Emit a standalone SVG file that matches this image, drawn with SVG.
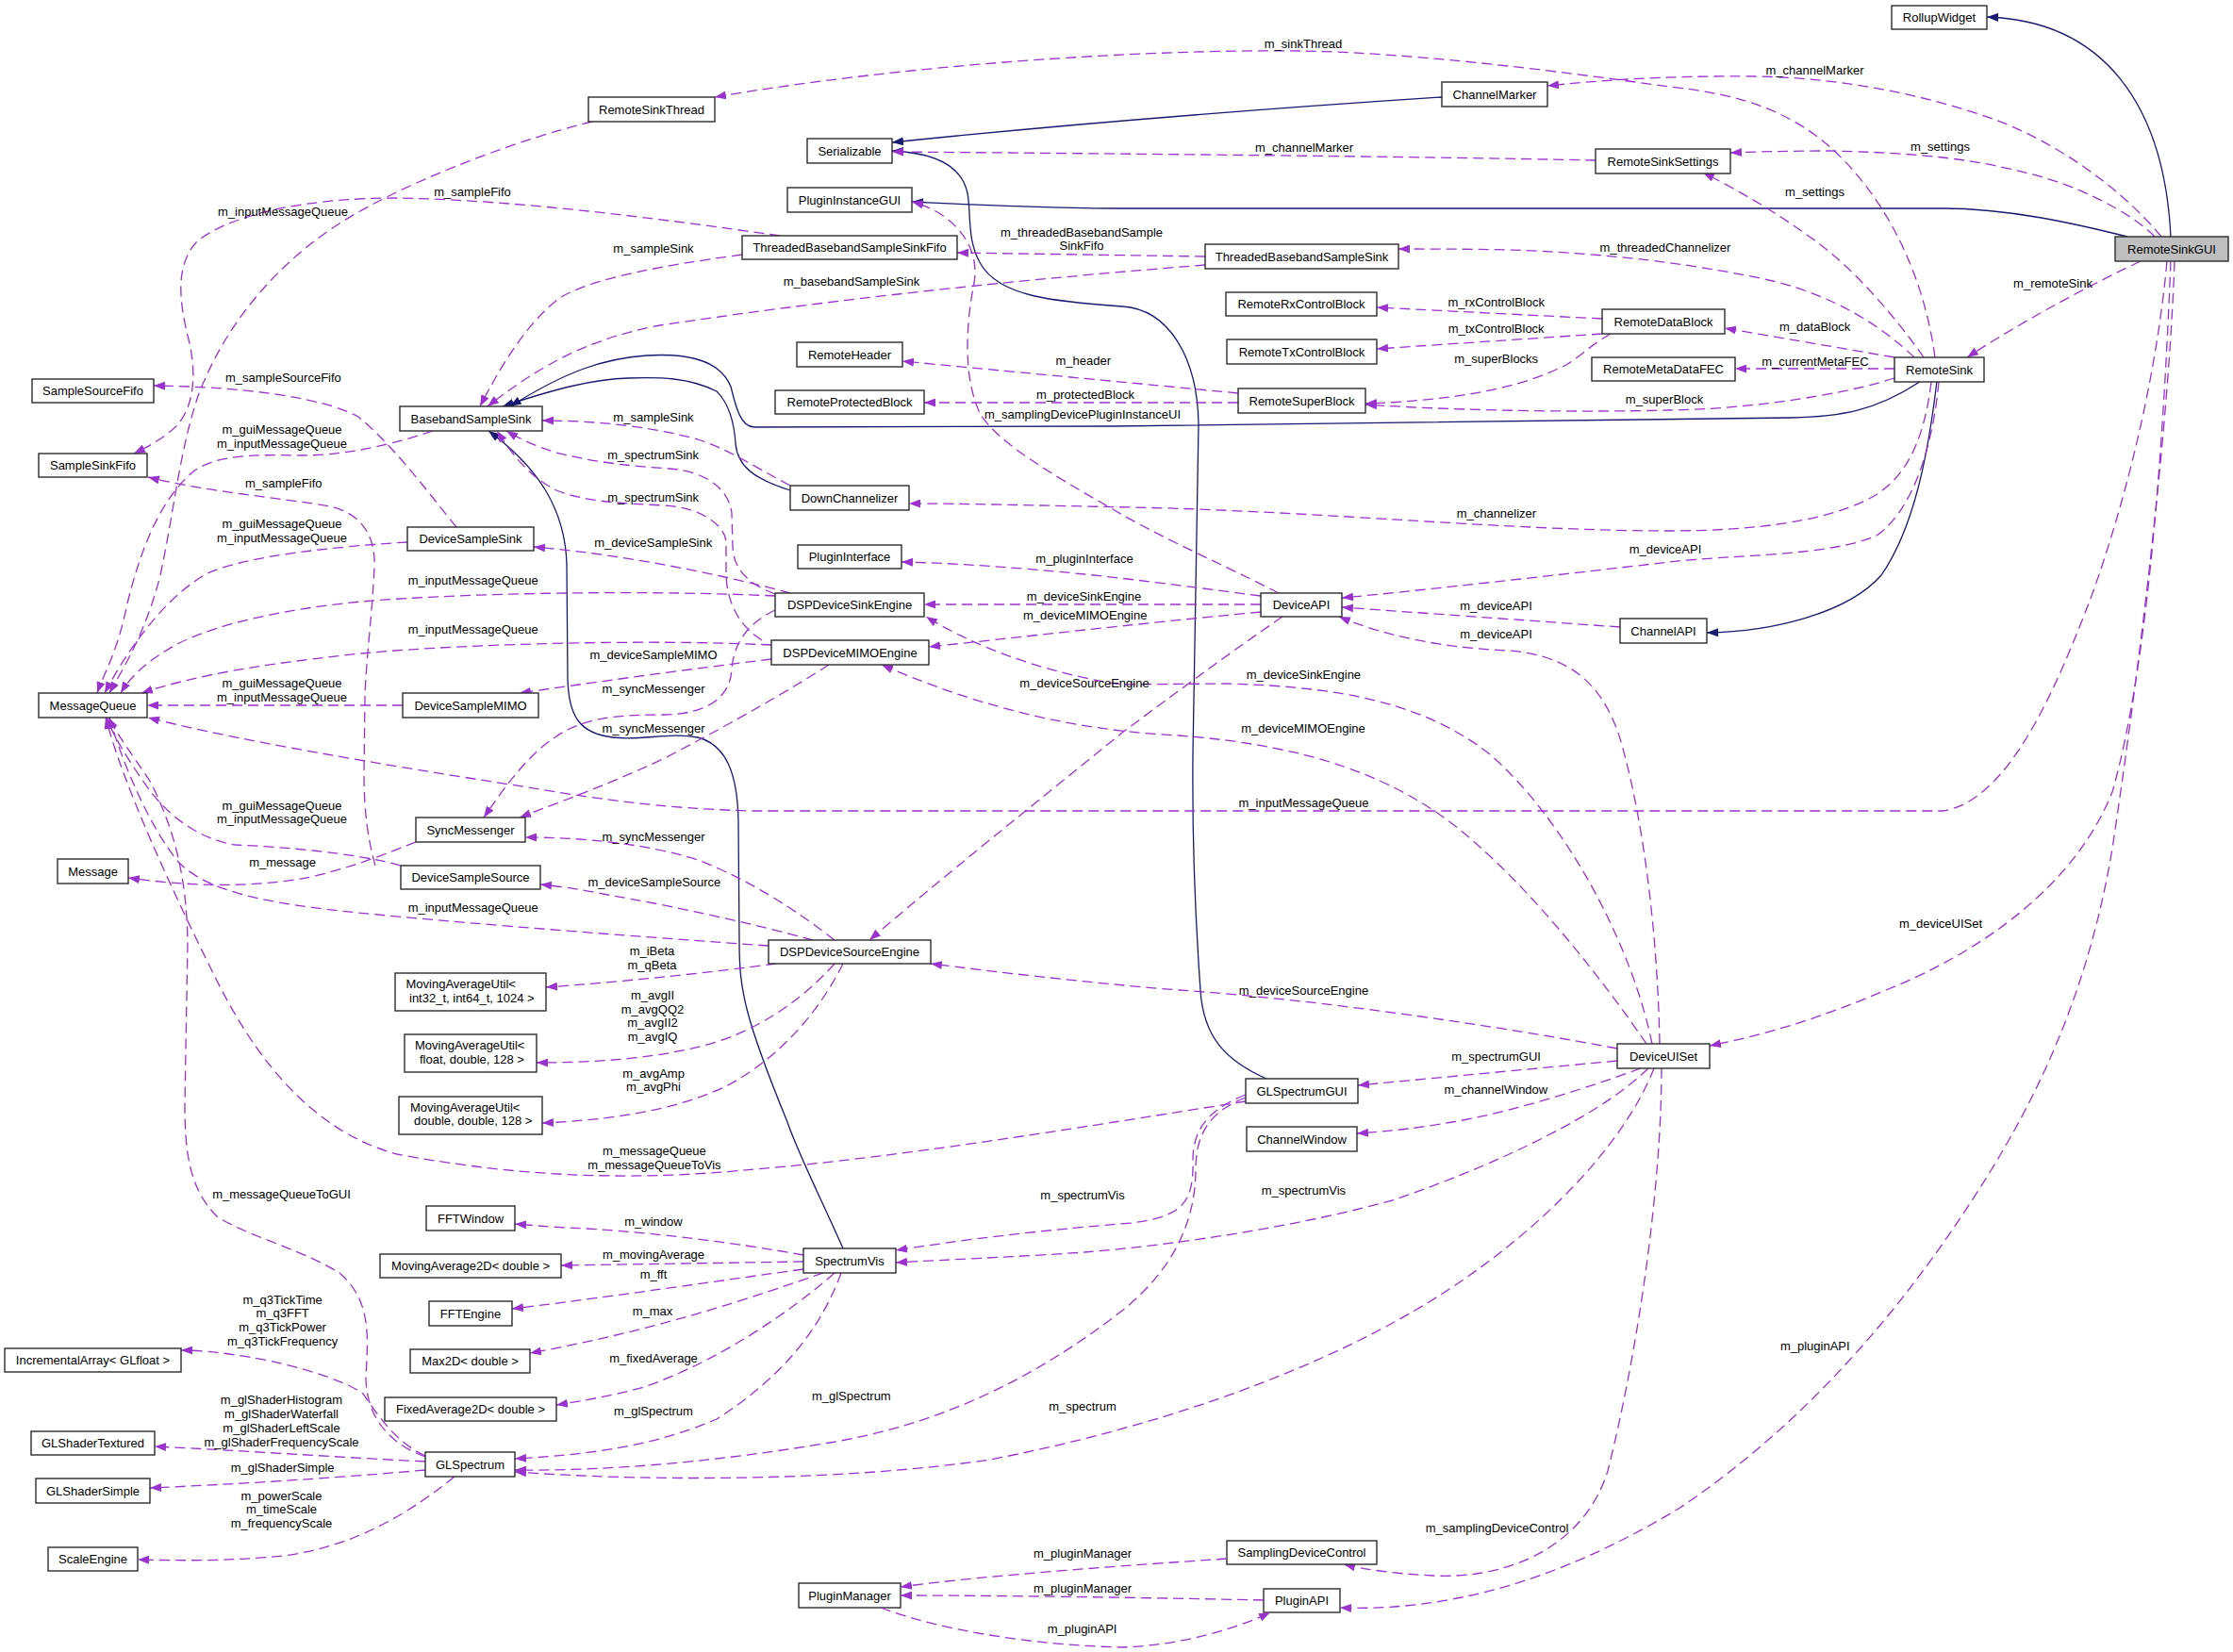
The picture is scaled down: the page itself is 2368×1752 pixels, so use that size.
<svg xmlns="http://www.w3.org/2000/svg" width="2368" height="1752" viewBox="0 0 2368 1752">
<style>
.node rect{fill:#ffffff;stroke:#2b2b2b;stroke-width:1.4}
.node.main rect{fill:#bfbfbf}
.node text{font-family:"Liberation Sans",Arial,sans-serif;font-size:13px;fill:#000;text-anchor:middle}
.node text.l{text-anchor:start}
.inh{fill:none;stroke:#191970;stroke-width:1.3;marker-end:url(#an)}
.use{fill:none;stroke:#9a32cd;stroke-width:1.3;stroke-dasharray:11,6;marker-end:url(#ap)}
.lbl{font-family:"Liberation Sans",Arial,sans-serif;font-size:13px;fill:#000;text-anchor:middle}
</style>
<defs>
<marker id="an" viewBox="0 0 12 9" refX="12" refY="4.5" markerWidth="12" markerHeight="9" markerUnits="userSpaceOnUse" orient="auto"><path d="M0,0 L12,4.5 L0,9 z" fill="#191970" stroke="none"/></marker>
<marker id="ap" viewBox="0 0 12 9" refX="12" refY="4.5" markerWidth="12" markerHeight="9" markerUnits="userSpaceOnUse" orient="auto"><path d="M0,0 L12,4.5 L0,9 z" fill="#9a32cd" stroke="none"/></marker>
</defs>
<rect width="2368" height="1752" fill="#ffffff"/>
<g id="edges">
<path class="inh" d="M2302,251 C2295,110 2230,22 2107,18"/>
<path class="inh" d="M2256,251 C2200,237 2130,221 2060,221 L1200,221 C1100,221 1010,216 967,214"/>
<path class="inh" d="M1529,103 C1300,118 1100,135 946,151"/>
<path class="inh" d="M1343,1144 C1300,1125 1276,1100 1273,1050 C1268,980 1264,900 1265,800 L1271,450 C1270,380 1240,328 1190,325 C1120,320 1060,315 1040,280 C1025,255 1030,225 1026,205 C1020,175 990,162 946,160"/>
<path class="inh" d="M2037,404 C1990,436 1950,442 1900,443 L1180,452 L800,453 C785,453 780,430 775,410 C765,385 735,374 686,377 C640,380 600,394 541,431"/>
<path class="inh" d="M838,520 C800,508 782,495 780,470 C778,440 770,425 760,415 C730,400 700,400 666,401 C630,402 590,412 533,431"/>
<path class="inh" d="M894,1324 C870,1270 845,1220 835,1190 C790,1080 784,1050 784,1000 L783,870 C782,820 770,790 740,782 C710,776 680,786 650,782 C615,778 603,760 602,720 L601,600 C600,540 570,495 518,457"/>
<path class="inh" d="M2054,404 C2045,480 2030,560 1995,610 C1960,650 1880,670 1810,671"/>

<path class="use" d="M2052,379 C2040,290 2000,210 1942,157 C1900,120 1850,100 1770,92 C1650,75 1500,56 1380,54 C1200,52 950,70 758,103"/>
<path class="use" d="M2292,251 C2250,200 2180,150 2113,126 C2040,100 1950,82 1860,81 C1760,80 1690,86 1641,91"/>
<path class="use" d="M2285,251 C2260,225 2200,195 2151,184 C2100,170 2040,162 1941,160 C1900,160 1860,161 1835,162"/>
<path class="use" d="M2040,379 C2020,350 1980,300 1940,267 C1900,235 1850,205 1806,183"/>
<path class="use" d="M2270,277 C2200,310 2130,350 2086,379"/>
<path class="use" d="M2298,277 C2285,420 2245,560 2215,640 C2180,730 2130,850 2060,860 L800,860 C700,858 620,845 560,835 C400,810 250,785 157,761"/>
<path class="use" d="M2302,277 C2295,450 2280,700 2240,840 C2200,940 2100,1010 2000,1050 C1930,1080 1870,1098 1813,1109"/>
<path class="use" d="M2306,277 C2300,450 2270,700 2240,900 C2210,1080 2140,1200 2080,1290 C2000,1410 1900,1520 1780,1600 C1680,1660 1560,1710 1421,1705"/>
<path class="use" d="M2009,379 L1829,348"/>
<path class="use" d="M2009,391 L1840,391"/>
<path class="use" d="M2009,401 C1950,420 1850,434 1770,435 C1650,438 1520,434 1448,429"/>
<path class="use" d="M2030,379 C2000,350 1950,315 1880,298 C1800,280 1700,268 1600,265 C1550,264 1510,264 1483,264"/>
<path class="use" d="M2048,405 C2040,470 2020,510 1980,530 C1930,555 1850,563 1770,563 C1600,563 1400,542 1200,538 C1100,536 1020,534 964,534"/>
<path class="use" d="M2056,405 C2050,470 2030,540 1990,568 C1940,590 1840,588 1770,596 C1650,610 1500,627 1423,634"/>
<path class="use" d="M1699,338 L1460,326"/>
<path class="use" d="M1699,354 L1460,370"/>
<path class="use" d="M1708,354 C1680,370 1670,385 1650,392 C1600,415 1530,425 1448,428"/>
<path class="use" d="M1313,417 C1200,406 1050,392 957,383"/>
<path class="use" d="M1313,427 L980,427"/>
<path class="use" d="M1356,629 C1300,600 1230,570 1180,540 C1110,500 1060,470 1040,440 C1020,400 1025,340 1033,300 C1040,260 1010,225 967,214"/>
<path class="use" d="M1337,632 C1260,622 1200,614 1150,609 C1080,602 1010,597 956,596"/>
<path class="use" d="M1337,641 L980,641"/>
<path class="use" d="M1337,649 C1200,662 1080,676 985,686"/>
<path class="use" d="M1360,654 C1300,695 1240,740 1190,777 C1100,850 1000,930 922,997"/>
<path class="use" d="M1718,665 L1423,644"/>
<path class="use" d="M1760,1107 C1758,1000 1745,880 1720,790 C1700,720 1660,695 1600,690 C1530,687 1470,675 1420,654"/>
<path class="use" d="M1752,1107 C1730,1000 1660,870 1580,800 C1510,745 1420,728 1300,725 L1190,726 C1120,716 1040,690 982,654"/>
<path class="use" d="M1746,1107 C1700,1040 1630,950 1560,890 C1480,820 1380,790 1250,780 C1150,775 1050,755 935,705"/>
<path class="use" d="M1715,1112 C1600,1090 1400,1060 1250,1050 C1150,1042 1050,1030 987,1022"/>
<path class="use" d="M1715,1125 L1440,1151"/>
<path class="use" d="M1740,1133 C1680,1155 1600,1180 1540,1190 C1500,1197 1470,1200 1439,1202"/>
<path class="use" d="M1748,1133 C1700,1180 1600,1230 1480,1272 C1380,1300 1250,1320 1150,1328 C1080,1333 1000,1336 950,1339"/>
<path class="use" d="M1754,1133 C1720,1220 1620,1320 1500,1390 C1380,1460 1220,1515 1050,1548 C900,1570 700,1572 546,1561"/>
<path class="use" d="M1762,1133 C1762,1250 1740,1420 1705,1560 C1680,1640 1600,1675 1520,1671 C1480,1669 1450,1665 1425,1659"/>
<path class="use" d="M1321,1161 C1285,1175 1265,1195 1265,1230 C1266,1275 1255,1290 1200,1297 C1100,1305 1020,1315 950,1326"/>
<path class="use" d="M1321,1164 C1285,1178 1268,1200 1268,1240 C1268,1300 1240,1350 1190,1390 C1100,1460 1000,1510 880,1530 C760,1550 650,1560 546,1559"/>
<path class="use" d="M1321,1168 C1150,1195 950,1228 800,1240 C680,1252 560,1250 421,1224 C330,1200 270,1120 230,1040 C180,940 130,830 112,761"/>
<path class="use" d="M451,1545 C410,1530 388,1500 388,1460 C390,1420 395,1380 360,1350 C320,1325 260,1310 230,1290 C200,1260 196,1220 196,1170 L199,1000 C198,930 185,880 160,830 C140,800 125,780 115,761"/>
<path class="use" d="M451,1544 C420,1530 400,1500 385,1478 C360,1460 290,1442 250,1437 C230,1434 210,1432 192,1432"/>
<path class="use" d="M451,1550 C350,1545 250,1538 164,1534"/>
<path class="use" d="M451,1559 C350,1568 250,1574 159,1578"/>
<path class="use" d="M482,1566 C440,1600 380,1640 300,1650 C240,1656 190,1655 146,1654"/>
<path class="use" d="M852,1331 C780,1318 680,1305 600,1302 C580,1301 560,1299 546,1298"/>
<path class="use" d="M852,1338 L595,1342"/>
<path class="use" d="M852,1346 C750,1360 650,1375 543,1388"/>
<path class="use" d="M873,1350 C800,1375 700,1410 562,1435"/>
<path class="use" d="M885,1350 C840,1390 760,1445 680,1472 C640,1482 610,1487 590,1490"/>
<path class="use" d="M892,1350 C870,1410 830,1460 760,1505 C690,1535 620,1543 546,1547"/>
<path class="use" d="M823,1022 C750,1032 650,1042 579,1047"/>
<path class="use" d="M885,1022 C860,1050 820,1085 760,1105 C700,1123 630,1127 569,1127"/>
<path class="use" d="M894,1022 C870,1070 830,1120 770,1152 C710,1180 640,1188 575,1191"/>
<path class="use" d="M815,1003 C700,995 500,980 380,968 C280,958 220,945 190,915 C160,880 130,810 116,761"/>
<path class="use" d="M885,997 C850,970 800,935 740,912 C680,893 610,888 557,888"/>
<path class="use" d="M862,997 C800,980 720,962 650,950 C620,944 595,940 573,938"/>
<path class="use" d="M822,632 C700,626 500,628 383,638 C300,646 230,662 190,682 C160,698 140,715 128,735"/>
<path class="use" d="M838,629 C760,608 660,588 566,580"/>
<path class="use" d="M822,630 C795,620 778,605 777,580 L776,545 C774,520 750,500 710,497 C660,494 620,488 590,480 C570,474 552,466 537,457"/>
<path class="use" d="M822,647 C795,660 778,680 776,710 C774,740 750,757 705,758 C660,758 620,760 590,781 C560,800 535,835 513,867"/>
<path class="use" d="M818,684 C700,678 500,682 383,693 C300,702 220,712 150,735"/>
<path class="use" d="M818,699 C730,710 640,722 551,735"/>
<path class="use" d="M808,679 C785,665 771,640 770,610 L770,574 C768,555 740,538 705,536 C660,534 620,532 590,520 C560,505 542,480 527,457"/>
<path class="use" d="M879,705 C840,730 780,765 705,804 C650,830 600,848 551,867"/>
<path class="use" d="M484,559 C460,530 420,475 380,442 C340,420 250,410 163,409"/>
<path class="use" d="M432,575 C350,580 260,590 220,608 C180,630 140,680 111,735"/>
<path class="use" d="M459,457 C420,470 370,483 320,483 C270,482 230,482 205,500 C170,530 150,580 135,640 C125,690 110,715 103,735"/>
<path class="use" d="M398,918 C390,890 386,860 386,820 L387,740 C388,700 395,650 397,600 C398,570 385,545 350,537 C300,528 220,522 157,506"/>
<path class="use" d="M425,918 C380,905 300,898 250,896 C210,890 180,865 160,840 C135,805 120,780 113,761"/>
<path class="use" d="M427,748 L156,748"/>
<path class="use" d="M441,893 C410,905 380,918 330,930 C270,942 200,940 136,931"/>
<path class="use" d="M827,250 C700,232 550,212 420,210 C330,210 250,225 210,255 C185,280 190,320 200,360 C210,400 205,440 180,458 C165,470 152,476 142,481"/>
<path class="use" d="M628,129 C560,145 450,185 380,225 C300,270 240,340 210,420 C190,480 185,540 170,610 C155,670 130,710 116,735"/>
<path class="use" d="M787,270 C700,282 630,295 595,315 C560,340 530,390 509,431"/>
<path class="use" d="M1278,272 L1015,268"/>
<path class="use" d="M1278,281 C1100,295 900,315 700,345 C620,360 570,390 517,431"/>
<path class="use" d="M838,515 C800,495 770,475 740,466 C690,452 630,446 575,446"/>
<path class="use" d="M1692,170 C1500,166 1200,163 946,161"/>
</g>
<g id="edge-labels">
<text class="lbl" x="1382" y="50.5">m_sinkThread</text>
<text class="lbl" x="1924.5" y="78.7">m_channelMarker</text>
<text class="lbl" x="1383" y="161">m_channelMarker</text>
<text class="lbl" x="2057.5" y="160.2">m_settings</text>
<text class="lbl" x="1924.5" y="208">m_settings</text>
<text class="lbl" x="501" y="208">m_sampleFifo</text>
<text class="lbl" x="300" y="228.7">m_inputMessageQueue</text>
<text class="lbl" x="1147" y="251.3">m_threadedBasebandSample</text>
<text class="lbl" x="1147" y="264.7">SinkFifo</text>
<text class="lbl" x="1766" y="267">m_threadedChannelizer</text>
<text class="lbl" x="693" y="267.8">m_sampleSink</text>
<text class="lbl" x="903" y="303">m_basebandSampleSink</text>
<text class="lbl" x="2177" y="305">m_remoteSink</text>
<text class="lbl" x="1586.7" y="324.8">m_rxControlBlock</text>
<text class="lbl" x="1924.6" y="350.8">m_dataBlock</text>
<text class="lbl" x="1586.7" y="352.7">m_txControlBlock</text>
<text class="lbl" x="1586.7" y="384.9">m_superBlocks</text>
<text class="lbl" x="1148.7" y="387">m_header</text>
<text class="lbl" x="1924.9" y="388">m_currentMetaFEC</text>
<text class="lbl" x="300.4" y="404.8">m_sampleSourceFifo</text>
<text class="lbl" x="1151" y="422.7">m_protectedBlock</text>
<text class="lbl" x="1765" y="428">m_superBlock</text>
<text class="lbl" x="1148" y="443.8">m_samplingDevicePluginInstanceUI</text>
<text class="lbl" x="693" y="446.8">m_sampleSink</text>
<text class="lbl" x="299" y="459.9">m_guiMessageQueue</text>
<text class="lbl" x="299" y="474.8">m_inputMessageQueue</text>
<text class="lbl" x="692.7" y="486.6">m_spectrumSink</text>
<text class="lbl" x="300.7" y="517.3">m_sampleFifo</text>
<text class="lbl" x="692.7" y="531.8">m_spectrumSink</text>
<text class="lbl" x="1586.9" y="549">m_channelizer</text>
<text class="lbl" x="299" y="560.1">m_guiMessageQueue</text>
<text class="lbl" x="299" y="574.6">m_inputMessageQueue</text>
<text class="lbl" x="692.7" y="580.4">m_deviceSampleSink</text>
<text class="lbl" x="1766" y="586.7">m_deviceAPI</text>
<text class="lbl" x="1150" y="596.5">m_pluginInterface</text>
<text class="lbl" x="501.7" y="620.1">m_inputMessageQueue</text>
<text class="lbl" x="1149.5" y="637">m_deviceSinkEngine</text>
<text class="lbl" x="1586.5" y="647">m_deviceAPI</text>
<text class="lbl" x="1150.7" y="657">m_deviceMIMOEngine</text>
<text class="lbl" x="501.7" y="672.2">m_inputMessageQueue</text>
<text class="lbl" x="1586.5" y="676.8">m_deviceAPI</text>
<text class="lbl" x="693" y="698.5">m_deviceSampleMIMO</text>
<text class="lbl" x="1382.4" y="720">m_deviceSinkEngine</text>
<text class="lbl" x="1150" y="729.2">m_deviceSourceEngine</text>
<text class="lbl" x="299" y="729.2">m_guiMessageQueue</text>
<text class="lbl" x="299" y="743.7">m_inputMessageQueue</text>
<text class="lbl" x="693" y="735.3">m_syncMessenger</text>
<text class="lbl" x="1382" y="777">m_deviceMIMOEngine</text>
<text class="lbl" x="693" y="777.4">m_syncMessenger</text>
<text class="lbl" x="1382.5" y="856.2">m_inputMessageQueue</text>
<text class="lbl" x="299" y="858.9">m_guiMessageQueue</text>
<text class="lbl" x="299" y="873.1">m_inputMessageQueue</text>
<text class="lbl" x="693" y="892.2">m_syncMessenger</text>
<text class="lbl" x="299.6" y="919">m_message</text>
<text class="lbl" x="693.9" y="940">m_deviceSampleSource</text>
<text class="lbl" x="501.7" y="967.2">m_inputMessageQueue</text>
<text class="lbl" x="2058" y="984">m_deviceUISet</text>
<text class="lbl" x="691.5" y="1013.1">m_iBeta</text>
<text class="lbl" x="691.5" y="1028">m_qBeta</text>
<text class="lbl" x="1382.5" y="1054.8">m_deviceSourceEngine</text>
<text class="lbl" x="692" y="1060.2">m_avgII</text>
<text class="lbl" x="692" y="1074.7">m_avgQQ2</text>
<text class="lbl" x="692" y="1089.3">m_avgII2</text>
<text class="lbl" x="692" y="1104.2">m_avgIQ</text>
<text class="lbl" x="1586.6" y="1124.8">m_spectrumGUI</text>
<text class="lbl" x="693" y="1143.2">m_avgAmp</text>
<text class="lbl" x="693" y="1157">m_avgPhi</text>
<text class="lbl" x="1586.3" y="1160.1">m_channelWindow</text>
<text class="lbl" x="693.9" y="1225">m_messageQueue</text>
<text class="lbl" x="693.9" y="1239.9">m_messageQueueToVis</text>
<text class="lbl" x="1382.4" y="1266.9">m_spectrumVis</text>
<text class="lbl" x="298.5" y="1271.3">m_messageQueueToGUI</text>
<text class="lbl" x="1148" y="1272.1">m_spectrumVis</text>
<text class="lbl" x="693" y="1300.1">m_window</text>
<text class="lbl" x="693" y="1335.2">m_movingAverage</text>
<text class="lbl" x="693" y="1356">m_fft</text>
<text class="lbl" x="299.6" y="1383">m_q3TickTime</text>
<text class="lbl" x="299.6" y="1396.8">m_q3FFT</text>
<text class="lbl" x="299.6" y="1411.8">m_q3TickPower</text>
<text class="lbl" x="299.6" y="1427.1">m_q3TickFrequency</text>
<text class="lbl" x="692" y="1395.4">m_max</text>
<text class="lbl" x="1924.8" y="1431.5">m_pluginAPI</text>
<text class="lbl" x="693" y="1445">m_fixedAverage</text>
<text class="lbl" x="902.8" y="1485.1">m_glSpectrum</text>
<text class="lbl" x="298.5" y="1489.1">m_glShaderHistogram</text>
<text class="lbl" x="298.5" y="1503.7">m_glShaderWaterfall</text>
<text class="lbl" x="298.5" y="1519">m_glShaderLeftScale</text>
<text class="lbl" x="298.5" y="1533.6">m_glShaderFrequencyScale</text>
<text class="lbl" x="1148" y="1496.4">m_spectrum</text>
<text class="lbl" x="693" y="1501.1">m_glSpectrum</text>
<text class="lbl" x="299.6" y="1560.6">m_glShaderSimple</text>
<text class="lbl" x="298.5" y="1590.9">m_powerScale</text>
<text class="lbl" x="298.5" y="1605.1">m_timeScale</text>
<text class="lbl" x="298.5" y="1620.1">m_frequencyScale</text>
<text class="lbl" x="1587.5" y="1625.2">m_samplingDeviceControl</text>
<text class="lbl" x="1148" y="1652.2">m_pluginManager</text>
<text class="lbl" x="1148" y="1689.4">m_pluginManager</text>
<text class="lbl" x="1147.6" y="1731.7">m_pluginAPI</text>
</g>
<g id="node-RollupWidget" class="node"><rect x="2006" y="6" width="101" height="25"/><text x="2056.5" y="23">RollupWidget</text></g>
<g id="node-RemoteSinkGUI" class="node main"><rect x="2243" y="251" width="120" height="26"/><text x="2303" y="268.5">RemoteSinkGUI</text></g>
<g id="node-RemoteSinkThread" class="node"><rect x="624" y="103" width="134" height="26"/><text x="691" y="120.5">RemoteSinkThread</text></g>
<g id="node-ChannelMarker" class="node"><rect x="1529" y="87" width="112" height="26"/><text x="1585" y="104.5">ChannelMarker</text></g>
<g id="node-Serializable" class="node"><rect x="856" y="147" width="90" height="26"/><text x="901" y="164.5">Serializable</text></g>
<g id="node-RemoteSinkSettings" class="node"><rect x="1692" y="158" width="143" height="26"/><text x="1763.5" y="175.5">RemoteSinkSettings</text></g>
<g id="node-PluginInstanceGUI" class="node"><rect x="835" y="199" width="132" height="26"/><text x="901" y="216.5">PluginInstanceGUI</text></g>
<g id="node-ThreadedBasebandSampleSinkFifo" class="node"><rect x="787" y="250" width="228" height="25"/><text x="901" y="267">ThreadedBasebandSampleSinkFifo</text></g>
<g id="node-ThreadedBasebandSampleSink" class="node"><rect x="1278" y="259" width="205" height="26"/><text x="1380.5" y="276.5">ThreadedBasebandSampleSink</text></g>
<g id="node-RemoteRxControlBlock" class="node"><rect x="1300" y="310" width="160" height="25"/><text x="1380" y="327">RemoteRxControlBlock</text></g>
<g id="node-RemoteTxControlBlock" class="node"><rect x="1301" y="360" width="159" height="26"/><text x="1380.5" y="377.5">RemoteTxControlBlock</text></g>
<g id="node-RemoteDataBlock" class="node"><rect x="1699" y="328" width="130" height="26"/><text x="1764" y="345.5">RemoteDataBlock</text></g>
<g id="node-RemoteMetaDataFEC" class="node"><rect x="1688" y="379" width="152" height="25"/><text x="1764" y="396">RemoteMetaDataFEC</text></g>
<g id="node-RemoteSink" class="node"><rect x="2009" y="379" width="95" height="26"/><text x="2056.5" y="396.5">RemoteSink</text></g>
<g id="node-RemoteHeader" class="node"><rect x="845" y="363" width="112" height="26"/><text x="901" y="380.5">RemoteHeader</text></g>
<g id="node-RemoteProtectedBlock" class="node"><rect x="822" y="414" width="158" height="25"/><text x="901" y="431">RemoteProtectedBlock</text></g>
<g id="node-RemoteSuperBlock" class="node"><rect x="1313" y="412" width="135" height="26"/><text x="1380.5" y="429.5">RemoteSuperBlock</text></g>
<g id="node-SampleSourceFifo" class="node"><rect x="34" y="402" width="129" height="25"/><text x="98.5" y="419">SampleSourceFifo</text></g>
<g id="node-SampleSinkFifo" class="node"><rect x="41" y="481" width="115" height="25"/><text x="98.5" y="498">SampleSinkFifo</text></g>
<g id="node-BasebandSampleSink" class="node"><rect x="424" y="431" width="151" height="26"/><text x="499.5" y="448.5">BasebandSampleSink</text></g>
<g id="node-DownChannelizer" class="node"><rect x="838" y="515" width="126" height="26"/><text x="901" y="532.5">DownChannelizer</text></g>
<g id="node-DeviceSampleSink" class="node"><rect x="432" y="559" width="134" height="25"/><text x="499" y="576">DeviceSampleSink</text></g>
<g id="node-PluginInterface" class="node"><rect x="846" y="578" width="110" height="25"/><text x="901" y="595">PluginInterface</text></g>
<g id="node-DSPDeviceSinkEngine" class="node"><rect x="822" y="629" width="158" height="25"/><text x="901" y="646">DSPDeviceSinkEngine</text></g>
<g id="node-DeviceAPI" class="node"><rect x="1337" y="629" width="86" height="25"/><text x="1380" y="646">DeviceAPI</text></g>
<g id="node-ChannelAPI" class="node"><rect x="1718" y="656" width="92" height="26"/><text x="1764" y="673.5">ChannelAPI</text></g>
<g id="node-DSPDeviceMIMOEngine" class="node"><rect x="818" y="679" width="167" height="26"/><text x="901.5" y="696.5">DSPDeviceMIMOEngine</text></g>
<g id="node-MessageQueue" class="node"><rect x="41" y="735" width="115" height="26"/><text x="98.5" y="752.5">MessageQueue</text></g>
<g id="node-DeviceSampleMIMO" class="node"><rect x="427" y="735" width="144" height="26"/><text x="499" y="752.5">DeviceSampleMIMO</text></g>
<g id="node-SyncMessenger" class="node"><rect x="441" y="867" width="116" height="26"/><text x="499" y="884.5">SyncMessenger</text></g>
<g id="node-Message" class="node"><rect x="61" y="911" width="75" height="26"/><text x="98.5" y="928.5">Message</text></g>
<g id="node-DeviceSampleSource" class="node"><rect x="425" y="918" width="148" height="25"/><text x="499" y="935">DeviceSampleSource</text></g>
<g id="node-DSPDeviceSourceEngine" class="node"><rect x="815" y="997" width="172" height="25"/><text x="901" y="1014">DSPDeviceSourceEngine</text></g>
<g id="node-MovingAverageUtil-int32" class="node"><rect x="419" y="1032" width="160" height="40"/><text class="l" x="430.5" y="1048">MovingAverageUtil&lt;</text><text class="l" x="434" y="1062.5">int32_t, int64_t, 1024 &gt;</text></g>
<g id="node-MovingAverageUtil-float" class="node"><rect x="429" y="1097" width="140" height="40"/><text class="l" x="440" y="1113">MovingAverageUtil&lt;</text><text class="l" x="445" y="1127.5">float, double, 128 &gt;</text></g>
<g id="node-MovingAverageUtil-double" class="node"><rect x="423" y="1163" width="152" height="40"/><text class="l" x="435" y="1178.8">MovingAverageUtil&lt;</text><text class="l" x="439" y="1192.5">double, double, 128 &gt;</text></g>
<g id="node-DeviceUISet" class="node"><rect x="1715" y="1107" width="98" height="26"/><text x="1764" y="1124.5">DeviceUISet</text></g>
<g id="node-GLSpectrumGUI" class="node"><rect x="1321" y="1144" width="119" height="26"/><text x="1380.5" y="1161.5">GLSpectrumGUI</text></g>
<g id="node-ChannelWindow" class="node"><rect x="1322" y="1195" width="117" height="26"/><text x="1380.5" y="1212.5">ChannelWindow</text></g>
<g id="node-FFTWindow" class="node"><rect x="452" y="1279" width="94" height="26"/><text x="499" y="1296.5">FFTWindow</text></g>
<g id="node-MovingAverage2D" class="node"><rect x="403" y="1330" width="192" height="25"/><text x="499" y="1347">MovingAverage2D&lt; double &gt;</text></g>
<g id="node-SpectrumVis" class="node"><rect x="852" y="1324" width="98" height="26"/><text x="901" y="1341.5">SpectrumVis</text></g>
<g id="node-FFTEngine" class="node"><rect x="455" y="1380" width="88" height="26"/><text x="499" y="1397.5">FFTEngine</text></g>
<g id="node-IncrementalArray" class="node"><rect x="5" y="1430" width="187" height="25"/><text x="98.5" y="1447">IncrementalArray&lt; GLfloat &gt;</text></g>
<g id="node-Max2D" class="node"><rect x="435" y="1431" width="127" height="25"/><text x="498.5" y="1448">Max2D&lt; double &gt;</text></g>
<g id="node-FixedAverage2D" class="node"><rect x="408" y="1482" width="182" height="25"/><text x="499" y="1499">FixedAverage2D&lt; double &gt;</text></g>
<g id="node-GLShaderTextured" class="node"><rect x="33" y="1518" width="131" height="25"/><text x="98.5" y="1535">GLShaderTextured</text></g>
<g id="node-GLSpectrum" class="node"><rect x="451" y="1540" width="95" height="26"/><text x="498.5" y="1557.5">GLSpectrum</text></g>
<g id="node-GLShaderSimple" class="node"><rect x="38" y="1568" width="121" height="26"/><text x="98.5" y="1585.5">GLShaderSimple</text></g>
<g id="node-SamplingDeviceControl" class="node"><rect x="1301" y="1634" width="159" height="25"/><text x="1380.5" y="1651">SamplingDeviceControl</text></g>
<g id="node-ScaleEngine" class="node"><rect x="51" y="1641" width="95" height="25"/><text x="98.5" y="1658">ScaleEngine</text></g>
<g id="node-PluginManager" class="node"><rect x="847" y="1679" width="108" height="26"/><text x="901" y="1696.5">PluginManager</text></g>
<g id="node-PluginAPI" class="node"><rect x="1340" y="1685" width="81" height="25"/><text x="1380.5" y="1702">PluginAPI</text></g>
<g id="edges-bottom">
<path class="use" d="M1301,1653 C1200,1660 1050,1670 955,1683"/>
<path class="use" d="M1340,1697 C1200,1694 1050,1692 955,1692"/>
<path class="use" d="M934,1705 C1000,1730 1100,1745 1190,1747 C1250,1745 1310,1728 1347,1710"/>
</g>
</svg>
